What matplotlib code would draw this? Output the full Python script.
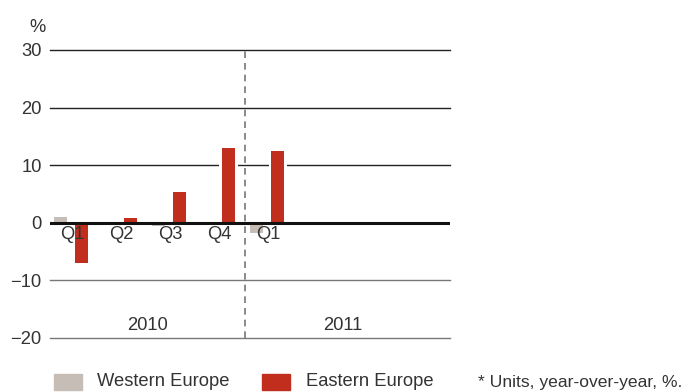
import numpy as np
import matplotlib.pyplot as plt

plt.rcParams['font.family'] = ['Liberation Sans', 'DejaVu Sans']

quarters = ['Q1', 'Q2', 'Q3', 'Q4', 'Q1']
western = [1.0, 0.0, -0.5, 0.0, -1.7]
eastern = [-7.0, 0.9, 5.3, 13.0, 12.5]
years = ['2010', '2011']
yticks = [-20, -10, 0, 10, 20, 30]
yticklabels = ['\u221220', '\u221210', '0', '10', '20', '30']

c_west = '#c6bdb6'
c_east = '#c12e1d'
txt = '#333333'
fs = 13.2

fig = plt.figure(figsize=(6.89, 3.92), dpi=100)
ax = fig.add_axes([50 / 689, 54 / 392, 400 / 689, 288 / 392])

x = np.arange(len(quarters))
w = 0.265
off = 0.22

# grid lines
for v in yticks:
    if v == 0:
        continue
    col = '#222222' if v > 0 else '#777777'
    ax.axhline(v, color=col, lw=1.0, zorder=1, clip_on=False)

# white gaps around the bars
pad = 0.12
ax.bar(x - off, western, w + pad, color='white', zorder=2)
ax.bar(x + off, eastern, w + pad, color='white', zorder=2)
ax.bar(x - off, western, w, color=c_west, zorder=3)
ax.bar(x + off, eastern, w, color=c_east, zorder=3)

ax.axhline(0, color='#111111', lw=2.2, zorder=4)
ax.axvline(3.55, color='#777777', lw=1.2, ls=(0, (4, 3)), ymax=0.995, zorder=4)

for i, q in enumerate(quarters):
    ax.text(i + 0.02, -0.6, q, ha='center', va='top', fontsize=fs, color=txt, zorder=5)

ax.text(1.55, -17.8, years[0], ha='center', va='center', fontsize=fs, color=txt)
ax.text(5.55, -17.8, years[1], ha='center', va='center', fontsize=fs, color=txt)

ax.set_xlim(-0.43, 7.73)
ax.set_ylim(-20, 30)
ax.set_yticks(yticks)
ax.set_yticklabels(yticklabels, fontsize=fs, color=txt)
ax.tick_params(axis='y', length=0, pad=6)
ax.set_xticks([])
for s in ax.spines.values():
    s.set_visible(False)

fig.text(37 / 689, 1 - 28 / 392, '%', ha='center', va='center', fontsize=fs, color=txt)

# legend
fig.patches.append(plt.Rectangle((54 / 689, 2 / 392), 28 / 689, 16 / 392,
                                 transform=fig.transFigure, color=c_west))
fig.text(97 / 689, 10 / 392, 'Western Europe', ha='left', va='center', fontsize=fs, color=txt)
fig.patches.append(plt.Rectangle((262 / 689, 2 / 392), 28 / 689, 16 / 392,
                                 transform=fig.transFigure, color=c_east))
fig.text(306 / 689, 10 / 392, 'Eastern Europe', ha='left', va='center', fontsize=fs, color=txt)
fig.text(478 / 689, 9 / 392, '* Units, year-over-year, %.', ha='left', va='center', fontsize=12.6, color=txt)

fig.savefig('out.png', dpi=100)
